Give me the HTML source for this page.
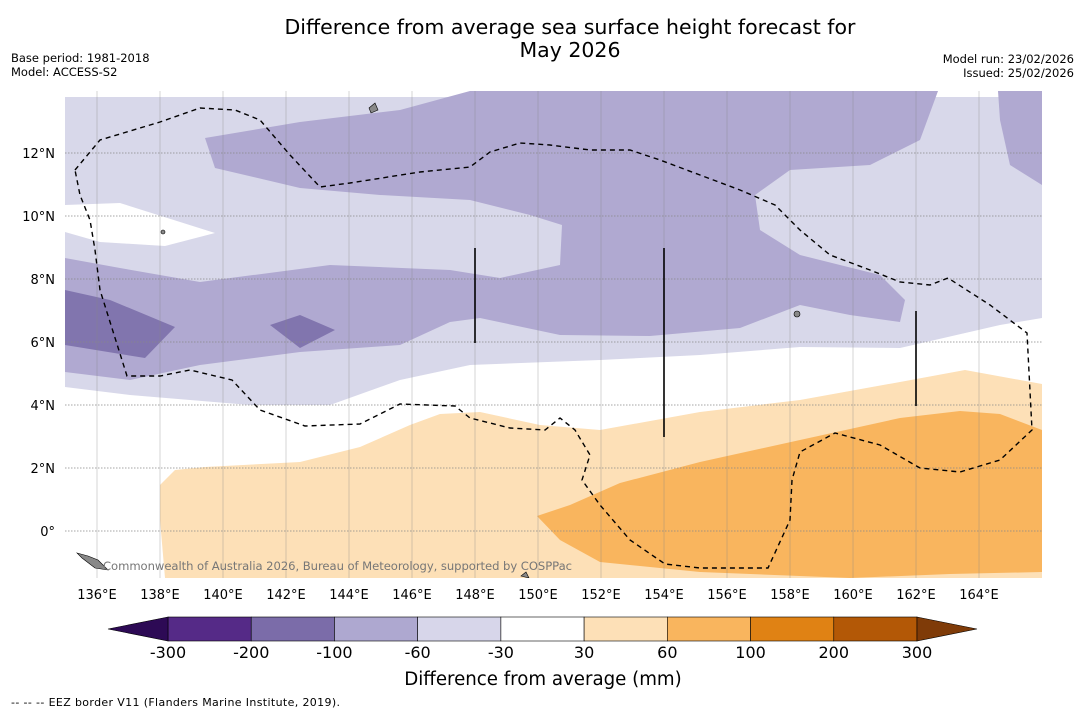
<!DOCTYPE html>
<html><head><meta charset="utf-8"><style>
body{margin:0;background:#fff;font-family:"Liberation Sans","DejaVu Sans",sans-serif}
svg text{font-family:"DejaVu Sans","Liberation Sans",sans-serif}
</style></head><body>
<svg width="1085" height="713" viewBox="0 0 1085 713">
<text x="570" y="34" font-size="20.5" text-anchor="middle">Difference from average sea surface height forecast for</text>
<text x="570" y="57" font-size="20.5" text-anchor="middle">May 2026</text>
<text x="11" y="62" font-size="11.5">Base period: 1981-2018</text>
<text x="11" y="76" font-size="11.5">Model: ACCESS-S2</text>
<text x="1074" y="63" font-size="11.5" text-anchor="end">Model run: 23/02/2026</text>
<text x="1074" y="77" font-size="11.5" text-anchor="end">Issued: 25/02/2026</text>
<defs><clipPath id="mc"><rect x="65" y="91" width="977" height="487"/></clipPath></defs>
<g clip-path="url(#mc)">
<rect x="65" y="97" width="977" height="481" fill="#d8d8ea"/>
<path d="M65,91H1042V97H65Z" fill="#fff"/>
<path d="M65,387 L130,395 L250,405 L330,405 L400,380 L470,365 L600,360 L700,355 L800,347 L900,348 L1000,325 L1042,318 L1042,578 L65,578Z" fill="#fff"/>
<path d="M65,205 L120,203 L215,233 L165,246 L100,242 L65,232Z" fill="#fff"/>
<path d="M205,138 L300,122 L400,110 L470,91 L938,91 L920,140 L870,165 L790,170 L755,195 L760,230 L800,255 L880,275 L905,300 L900,322 L850,315 L800,305 L740,328 L650,336 L560,335 L480,318 L450,322 L400,345 L300,352 L200,365 L130,380 L65,372 L65,258 L120,268 L200,282 L330,265 L450,270 L500,278 L560,265 L562,225 L530,215 L470,200 L380,195 L300,188 L215,168Z" fill="#b0a9d1"/>
<path d="M998,91 L1042,91 L1042,185 L1010,165 L1000,120Z" fill="#b0a9d1"/>
<path d="M65,290 L110,300 L175,327 L145,358 L65,345Z" fill="#8175ae"/>
<path d="M270,325 L300,315 L335,330 L300,348Z" fill="#8175ae"/>
<path d="M160,485 L175,470 L205,467 L300,462 L360,447 L410,425 L440,414 L480,412 L540,425 L600,430 L700,412 L800,400 L900,382 L965,370 L1042,384 L1042,578 L165,578 L160,520Z" fill="#fde0b7"/>
<path d="M537,516 L570,505 L620,483 L700,462 L800,440 L900,418 L960,411 L1000,414 L1042,430 L1042,572 L950,574 L850,578 L700,572 L600,562 L560,540Z" fill="#f9b55e"/>
<g id="grid" stroke="#888" stroke-width="0.5" stroke-opacity="0.7"></g>
<path d="M75,170 L100,140 L160,122 L200,108 L235,110 L260,120 L290,155 L320,187 L350,183 L420,172 L470,167 L490,152 L520,143 L550,145 L590,150 L630,150 L660,160 L700,175 L740,190 L775,205 L800,230 L830,255 L870,270 L900,282 L930,285 L948,278 L990,305 L1027,333 L1032,430 L1000,460 L960,472 L920,468 L880,445 L835,433 L800,452 L792,480 L790,520 L768,568 L700,568 L665,564 L630,540 L600,505 L582,480 L590,455 L575,430 L560,418 L545,430 L510,428 L470,418 L455,406 L400,404 L360,424 L305,426 L260,410 L232,380 L190,370 L160,376 L127,376 L100,290 L95,250 L90,220 L80,195Z" fill="none" stroke="#000" stroke-width="1.4" stroke-dasharray="5,4"/>
<g stroke="#000" stroke-width="1.6">
<line x1="475" y1="248" x2="475" y2="343"/><line x1="664" y1="248" x2="664" y2="437"/><line x1="916" y1="311" x2="916" y2="406"/>
</g>
<g fill="#888" stroke="#000" stroke-width="0.6">
<path d="M369,108 L375,103 L378,110 L371,113Z"/><path d="M77,553 L88,556 L98,560 L108,570 L95,568 L82,558Z"/><circle cx="797" cy="314" r="3"/><circle cx="163" cy="232" r="2"/><path d="M521,576 L526,572 L529,578Z"/>
</g>
<text x="103" y="570" font-size="11.6" fill="#777" textLength="469">Commonwealth of Australia 2026, Bureau of Meteorology, supported by COSPPac</text>
</g>
<g id="labels" font-size="13"></g>
<g id="cbar"></g>
<text x="543" y="685" font-size="18.2" text-anchor="middle">Difference from average (mm)</text>
<text x="11" y="706" font-size="11" textLength="329">--  --  -- EEZ border V11 (Flanders Marine Institute, 2019).</text>
</svg>
<script>
const lonTicks=[136,138,140,142,144,146,148,150,152,154,156,158,160,162,164];
const latTicks=[0,2,4,6,8,10,12];
const cbLevels=[-300,-200,-100,-60,-30,30,60,100,200,300];
const cbColors=["#552a87","#7b6ca9","#aea8d0","#d7d6ea","#ffffff","#fde0b7","#f9b55e","#e08214","#b35806"];
const cbExt=["#2d0a55","#7f3b08"];
const NS="http://www.w3.org/2000/svg";
const xL=l=>97+(l-136)*31.5, yL=l=>531-l*31.5;
function mk(t,a,p){const e=document.createElementNS(NS,t);for(const k in a)e.setAttribute(k,a[k]);p.appendChild(e);return e;}
const g=document.getElementById('grid'),lb=document.getElementById('labels');
lonTicks.forEach(l=>{const ln=mk('line',{x1:xL(l),x2:xL(l),y1:91,y2:578},g);


const t=mk('text',{x:xL(l),y:599,'text-anchor':'middle'},lb);t.textContent=l+'°E';

});
latTicks.forEach(l=>{const ln=mk('line',{x1:65,x2:1042,y1:yL(l),y2:yL(l),'stroke-dasharray':'1.5,1.5','stroke-width':0.7,'stroke-opacity':1},g);


const t=mk('text',{x:55,y:yL(l)+5,'text-anchor':'end'},lb);t.textContent=l===0?'0°':l+'°N';

});
const cb=document.getElementById('cbar');const x0=168,x1=917,y0=617,h=24;
const w=(x1-x0)/cbColors.length;
cbColors.forEach((c,i)=>{const r=mk('rect',{x:x0+i*w,y:y0,width:w,height:h,fill:c,stroke:'#000','stroke-width':0.6},cb);

});
const tl=mk('polygon',{points:`${x0},${y0} 108,${y0+h/2} ${x0},${y0+h}`,fill:cbExt[0],stroke:'#000','stroke-width':0.6},cb);


const tr=mk('polygon',{points:`${x1},${y0} 977,${y0+h/2} ${x1},${y0+h}`,fill:cbExt[1],stroke:'#000','stroke-width':0.6},cb);


cbLevels.forEach((v,i)=>{const t=mk('text',{x:x0+i*w,y:658,'text-anchor':'middle','font-size':16},cb);t.textContent=v;

});
</script>
</body></html>
